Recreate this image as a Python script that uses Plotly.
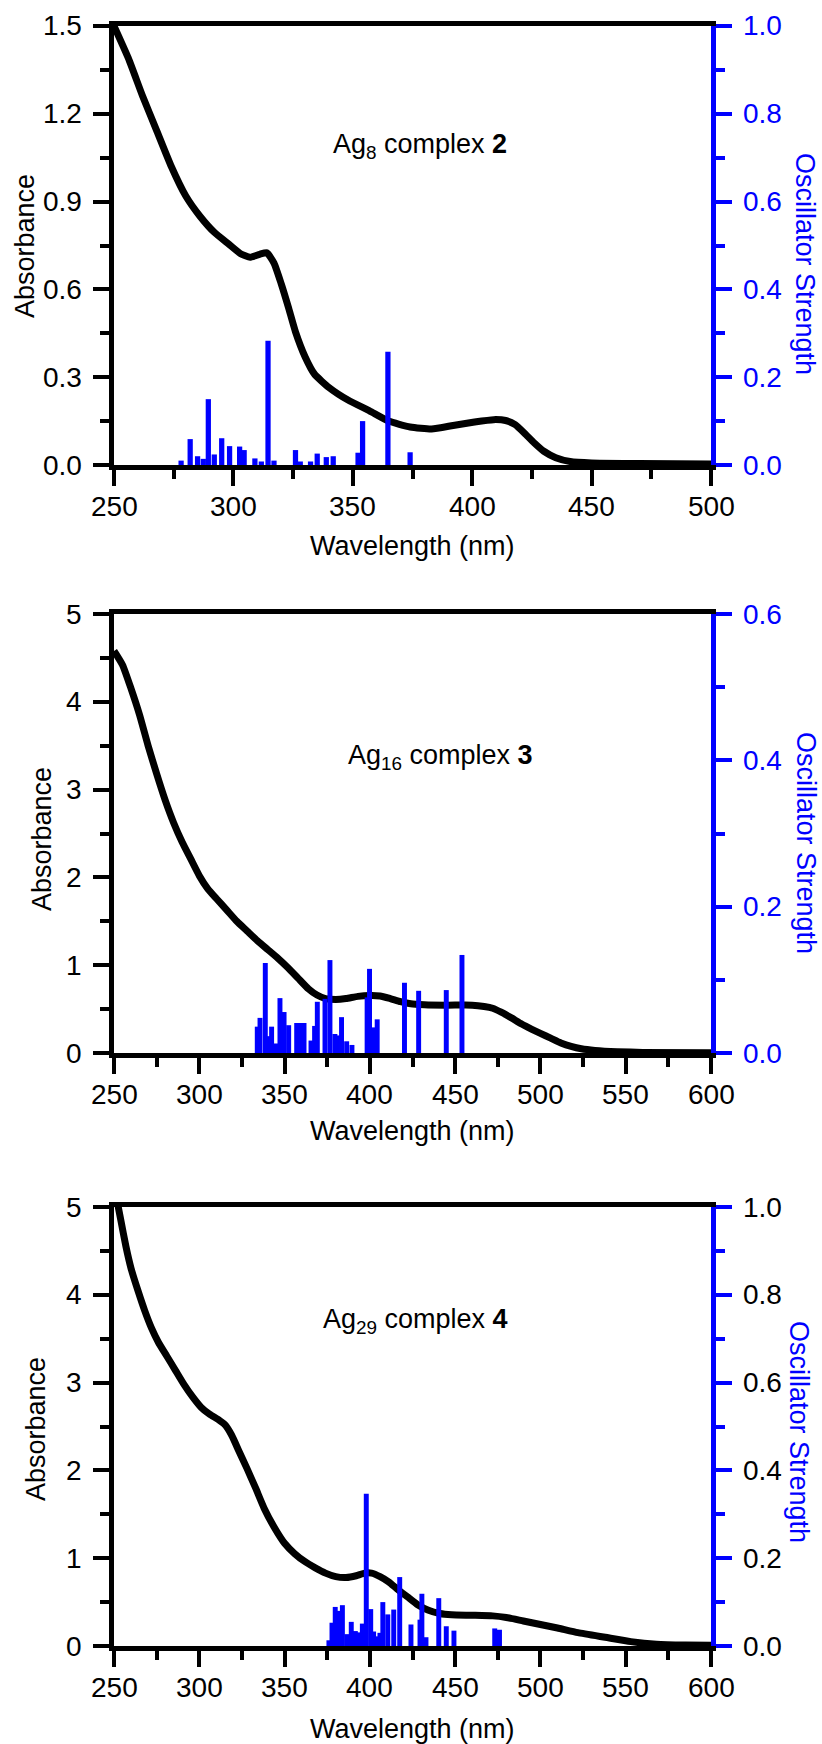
import plotly.graph_objects as go

# ---------------- data ----------------
# Panel 1: Ag8 complex 2
wl1 = [250, 256, 262, 268, 274, 280, 286, 292, 298, 303, 307, 311, 314, 317, 320, 323, 326, 330,
       334, 340, 348, 357, 365, 374, 383, 392, 401, 409, 414, 418, 422, 426, 430, 435, 441, 450,
       470, 500]
abs1 = [1.50, 1.39, 1.26, 1.14, 1.02, 0.92, 0.85, 0.795, 0.755, 0.722, 0.71, 0.72, 0.725, 0.69,
        0.62, 0.54, 0.455, 0.37, 0.31, 0.265, 0.222, 0.185, 0.15, 0.13, 0.123, 0.135, 0.147,
        0.155, 0.152, 0.138, 0.108, 0.075, 0.047, 0.025, 0.012, 0.007, 0.005, 0.003]
bar_wl1 = [278.1, 281.9, 285.0, 287.4, 289.5, 292.0, 295.1, 298.4, 302.6, 304.5, 309.0, 311.7,
           314.5, 317.0, 326.0, 328.0, 332.3, 335.1, 338.9, 341.8, 352.2, 354.1, 364.7, 374.0]
osc1 = [0.010, 0.059, 0.020, 0.014, 0.150, 0.024, 0.061, 0.043, 0.042, 0.034, 0.015, 0.008,
        0.283, 0.010, 0.034, 0.008, 0.008, 0.026, 0.018, 0.020, 0.028, 0.100, 0.258, 0.029]

# Panel 2: Ag16 complex 3
wl2 = [250, 255, 260, 265, 270, 275, 280, 285, 290, 295, 300, 305, 310, 316, 322, 328, 334, 340,
       346, 352, 358, 364, 369, 374, 380, 386, 393, 400, 406, 412, 418, 424, 432, 445, 460, 467,
       472, 477, 483, 489, 495, 500, 506, 512, 518, 524, 532, 545, 560, 600]
abs2 = [4.58, 4.42, 4.15, 3.85, 3.50, 3.18, 2.88, 2.62, 2.40, 2.21, 2.02, 1.87, 1.76, 1.63,
        1.50, 1.39, 1.28, 1.18, 1.08, 0.97, 0.85, 0.73, 0.66, 0.62, 0.61, 0.62, 0.645, 0.655,
        0.65, 0.62, 0.585, 0.56, 0.55, 0.545, 0.545, 0.53, 0.51, 0.465, 0.40, 0.33, 0.27, 0.224,
        0.17, 0.115, 0.075, 0.048, 0.03, 0.015, 0.007, 0.004]
bar_wl2 = [334.0, 335.6, 338.7, 340.6, 342.4, 344.9, 347.3, 349.7, 352.4, 357.1, 359.5, 361.4,
           365.5, 367.6, 369.2, 373.7, 376.6, 379.5, 381.0, 383.4, 386.4, 389.5, 398.4, 399.8,
           402.2, 404.3, 420.3, 428.6, 444.8, 454.0]
osc2 = [0.036, 0.048, 0.123, 0.023, 0.036, 0.013, 0.075, 0.056, 0.038, 0.041, 0.041, 0.041,
        0.017, 0.037, 0.070, 0.074, 0.127, 0.026, 0.024, 0.049, 0.016, 0.011, 0.076, 0.115,
        0.035, 0.046, 0.096, 0.085, 0.086, 0.134]

# Panel 3: Ag29 complex 4
wl3 = [251, 254, 257, 260, 264, 268, 272, 276, 281, 286, 291, 296, 301, 306, 311, 315, 319, 323,
       328, 333, 338, 344, 350, 356, 362, 368, 374, 380, 386, 392, 397, 401, 406, 411, 416, 422,
       428, 434, 441, 448, 460, 472, 480, 490, 500, 510, 522, 538, 553, 568, 585, 600]
abs3 = [5.15, 4.85, 4.55, 4.30, 4.05, 3.82, 3.62, 3.46, 3.30, 3.14, 2.98, 2.84, 2.72, 2.64,
        2.58, 2.52, 2.40, 2.23, 2.02, 1.80, 1.57, 1.35, 1.17, 1.05, 0.96, 0.89, 0.83, 0.79, 0.78,
        0.80, 0.83, 0.83, 0.79, 0.73, 0.65, 0.56, 0.47, 0.41, 0.37, 0.355, 0.35, 0.343, 0.325,
        0.285, 0.245, 0.205, 0.152, 0.099, 0.05, 0.02, 0.01, 0.008]
bar_wl3 = [376.0, 377.8, 379.7, 381.8, 383.9, 386.5, 389.1, 391.5, 393.5, 395.6, 397.9, 400.5,
           402.2, 404.1, 405.9, 407.6, 410.5, 414.0, 417.5, 424.1, 429.4, 430.5, 432.9, 440.4,
           444.8, 449.3, 473.2, 476.0]
osc3 = [0.013, 0.053, 0.089, 0.080, 0.093, 0.027, 0.055, 0.034, 0.031, 0.051, 0.347, 0.084,
        0.033, 0.022, 0.030, 0.100, 0.072, 0.083, 0.157, 0.049, 0.060, 0.119, 0.020, 0.109,
        0.045, 0.035, 0.040, 0.037]

# tick values / labels
xticks1 = [250, 300, 350, 400, 450, 500]
xticks23 = [250, 300, 350, 400, 450, 500, 550, 600]
yticks1 = [0.0, 0.3, 0.6, 0.9, 1.2, 1.5]
yticks23 = [0, 1, 2, 3, 4, 5]
y2ticks1 = [0.0, 0.2, 0.4, 0.6, 0.8, 1.0]
y2ticks2 = [0.0, 0.2, 0.4, 0.6]
y2ticks3 = [0.0, 0.2, 0.4, 0.6, 0.8, 1.0]

labels = ["Ag<sub>8</sub> complex <b>2</b>",
          "Ag<sub>16</sub> complex <b>3</b>",
          "Ag<sub>29</sub> complex <b>4</b>"]

# ---------------- layout geometry (pixels) ----------------
W, H = 822, 1744
X0, X1 = 114, 711
panels = [(26, 465), (614, 1053), (1207, 1646)]
FONT = "Liberation Sans, Arial, sans-serif"
BLUE = "#0000FF"
TICK_FS = 28
TITLE_FS = 27


def xp(px):
    return px / W


def yp(py):
    return 1 - py / H


fig = go.Figure()

specs = [
    dict(wl=wl1, ab=abs1, bw=bar_wl1, osc=osc1, xr=[250, 500], yr=[0, 1.5], ymin=0.15,
         y2r=[0, 1.0], bwid=2.2, rcol=BLUE, xt=xticks1, yt=yticks1, yfmt="{:.1f}", y2t=y2ticks1,
         ann=(420, 146), abst=(25, 246), osct=(805, 264), wavy=546),
    dict(wl=wl2, ab=abs2, bw=bar_wl2, osc=osc2, xr=[250, 600], yr=[0, 5], ymin=0.5,
         y2r=[0, 0.6], bwid=2.9, rcol=BLUE, xt=xticks23, yt=yticks23, yfmt="{:d}", y2t=y2ticks2,
         ann=(440, 757), abst=(42, 839), osct=(806, 843), wavy=1131),
    dict(wl=wl3, ab=abs3, bw=bar_wl3, osc=osc3, xr=[250, 600], yr=[0, 5], ymin=0.5,
         y2r=[0, 1.0], bwid=2.9, rcol="black", xt=xticks23, yt=yticks23, yfmt="{:d}", y2t=y2ticks3,
         ann=(415, 1321), abst=(36, 1429), osct=(799, 1432), wavy=1729),
]

annotations = []
for i, (s, (top, bot)) in enumerate(zip(specs, panels)):
    n = i + 1
    xa = "x" if n == 1 else f"x{n}"
    ya = "y" if n == 1 else f"y{2 * n - 1}"
    ya2 = f"y{2 * n}"
    xkey = "xaxis" if n == 1 else f"xaxis{n}"
    ykey = "yaxis" if n == 1 else f"yaxis{2 * n - 1}"
    y2key = f"yaxis{2 * n}"

    fig.add_trace(go.Scatter(x=s["wl"], y=s["ab"], mode="lines",
                             line=dict(color="black", width=7, shape="spline", smoothing=0.5),
                             xaxis=xa, yaxis=ya, showlegend=False))
    fig.add_trace(go.Bar(x=s["bw"], y=s["osc"], width=s["bwid"],
                         marker=dict(color=BLUE, line=dict(width=0)),
                         xaxis=xa, yaxis=ya2, showlegend=False))

    dom_y = [yp(bot), yp(top)]
    fig.layout[xkey] = dict(
        domain=[xp(X0), xp(X1)], anchor=ya, range=s["xr"],
        showline=True, linecolor="black", linewidth=5, mirror=True,
        ticks="outside", ticklen=16, tickwidth=4, tickcolor="black",
        tickmode="array", tickvals=s["xt"], showticklabels=False,
        showgrid=False, zeroline=False,
        minor=dict(ticks="outside", ticklen=9, tickwidth=4, tickcolor="black",
                   tick0=250, dtick=25, showgrid=False),
    )
    fig.layout[ykey] = dict(
        domain=dom_y, anchor=xa, range=s["yr"],
        showline=True, linecolor="black", linewidth=5,
        ticks="outside", ticklen=16, tickwidth=4, tickcolor="black",
        tickmode="array", tickvals=s["yt"], showticklabels=False,
        showgrid=False, zeroline=False,
        minor=dict(ticks="outside", ticklen=9, tickwidth=4, tickcolor="black",
                   tick0=0, dtick=s["ymin"], showgrid=False),
    )
    fig.layout[y2key] = dict(
        overlaying=ya, anchor=xa, side="right", range=s["y2r"],
        showline=True, linecolor=BLUE, linewidth=5,
        ticks="outside", ticklen=16, tickwidth=4, tickcolor=BLUE,
        tickmode="array", tickvals=s["y2t"], showticklabels=False,
        showgrid=False, zeroline=False,
        minor=dict(ticks="outside", ticklen=9, tickwidth=4, tickcolor=BLUE,
                   tick0=0, dtick=0.1, showgrid=False),
    )

    # tick labels
    for v in s["xt"]:
        annotations.append(dict(text=str(v), x=v, xref=xa, y=yp(bot + 41), yref="paper",
                                xanchor="center", yanchor="middle", showarrow=False,
                                font=dict(family=FONT, size=TICK_FS, color="black")))
    for v in s["yt"]:
        annotations.append(dict(text=s["yfmt"].format(v), x=xp(84), xref="paper", y=v, yref=ya,
                                xanchor="right", yanchor="middle", showarrow=False,
                                font=dict(family=FONT, size=TICK_FS, color="black")))
    for v in s["y2t"]:
        annotations.append(dict(text="{:.1f}".format(v), x=xp(741), xref="paper", y=v,
                                yref=ya2, xanchor="left", yanchor="middle", showarrow=False,
                                font=dict(family=FONT, size=TICK_FS, color=s["rcol"])))

    annotations.append(dict(text=labels[i], x=xp(s["ann"][0]), y=yp(s["ann"][1]),
                            xref="paper", yref="paper", xanchor="center", yanchor="middle",
                            showarrow=False, font=dict(family=FONT, size=27, color="black")))
    annotations.append(dict(text="Absorbance", x=xp(s["abst"][0]), y=yp(s["abst"][1]),
                            xref="paper", yref="paper", xanchor="center", yanchor="middle",
                            textangle=-90, showarrow=False,
                            font=dict(family=FONT, size=TITLE_FS, color="black")))
    annotations.append(dict(text="Oscillator Strength", x=xp(s["osct"][0]), y=yp(s["osct"][1]),
                            xref="paper", yref="paper", xanchor="center", yanchor="middle",
                            textangle=90, showarrow=False,
                            font=dict(family=FONT, size=TITLE_FS, color=BLUE)))
    annotations.append(dict(text="Wavelength (nm)", x=xp((X0 + X1) / 2), y=yp(s["wavy"]),
                            xref="paper", yref="paper", xanchor="center", yanchor="middle",
                            showarrow=False,
                            font=dict(family=FONT, size=TITLE_FS, color="black")))

fig.update_layout(
    width=W, height=H, autosize=False,
    margin=dict(l=0, r=0, t=0, b=0),
    paper_bgcolor="white", plot_bgcolor="white",
    barmode="overlay", showlegend=False,
    annotations=annotations,
    font=dict(family=FONT),
)

fig.write_html("out.html")
